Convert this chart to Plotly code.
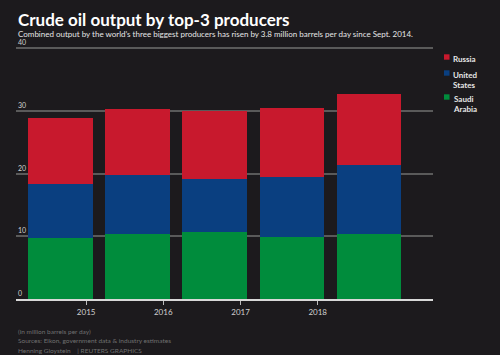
import plotly.graph_objects as go

dates = ["2014-09-01", "2015-09-01", "2016-09-01", "2017-09-01", "2018-09-01"]
saudi = [9.7, 10.4, 10.7, 9.95, 10.4]
us = [8.6, 9.3, 8.4, 9.55, 11.0]
russia = [10.6, 10.65, 10.9, 10.95, 11.3]
series_names = ["Saudi Arabia", "United States", "Russia"]
legend_labels = ["Saudi<br>Arabia", "United<br>States", "Russia"]
series_colors = ["#008c3c", "#0a3f80", "#c8192d"]
y_ticks = [0, 10, 20, 30, 40]
x_ticks = ["2015-01-01", "2016-01-01", "2017-01-01", "2018-01-01"]
x_labels = ["2015", "2016", "2017", "2018"]
footer_lines = ["(in million barrels per day)",
                "Sources: Eikon, government data &amp; industry estimates",
                "Henning Gloystein    | REUTERS GRAPHICS"]

BG = "#1c1a1d"
FONT = "Lato"
bar_width_ms = 306 * 86400000

W, H = 500, 355
ML, MR, MT, MB = 16, 67, 45, 56
PW = W - ML - MR
PH = H - MT - MB

def px_x(px):
    return (px - ML) / PW

def px_y(py):
    return (H - MB - py) / PH

fig = go.Figure()
for name, vals, col in zip(series_names, [saudi, us, russia], series_colors):
    fig.add_trace(go.Bar(
        x=dates, y=vals, name=name, marker=dict(color=col, line=dict(width=0)),
        width=[bar_width_ms] * len(dates), showlegend=False,
    ))

annotations = []
for t in y_ticks:
    annotations.append(dict(
        x=0, xref="paper", y=t, yref="y", text=str(t), showarrow=False,
        xanchor="left", yanchor="bottom", yshift=0,
        font=dict(family=FONT, size=7, color="#d0d0d0"),
    ))

# manual legend (Russia on top)
shapes = []
legend_rows = [(57, 2), (73, 1), (97, 0)]
for py, idx in legend_rows:
    shapes.append(dict(type="rect", xref="paper", yref="paper",
                       x0=px_x(444), x1=px_x(449.5), y0=px_y(py + 2.7), y1=px_y(py - 2.7),
                       fillcolor=series_colors[idx], line=dict(width=0)))
    annotations.append(dict(x=px_x(451), xref="paper", y=px_y(py - 5), yref="paper",
                            text="<b>" + legend_labels[idx] + "</b>", showarrow=False,
                            xanchor="left", yanchor="top", align="left",
                            font=dict(family=FONT, size=8, color="#e6e6e6")))

annotations += [
    dict(x=0, xref="paper", y=px_y(19.5), yref="paper", text="<b>Crude oil output by top-3 producers</b>",
         showarrow=False, xanchor="left", yanchor="middle",
         font=dict(family=FONT, size=17, color="#ffffff")),
    dict(x=0, xref="paper", y=px_y(33.5), yref="paper",
         text="Combined output by the world\u2019s three biggest producers has risen by 3.8 million barrels per day since Sept. 2014.",
         showarrow=False, xanchor="left", yanchor="middle",
         font=dict(family=FONT, size=8, color="#e6e6e6")),
]
for i, line in enumerate(footer_lines):
    annotations.append(dict(x=0, xref="paper", y=px_y(331 + 9.7 * i), yref="paper",
                            text=line, showarrow=False, xanchor="left", yanchor="middle",
                            font=dict(family=FONT, size=6.5, color="#707070")))

fig.update_layout(
    width=W, height=H,
    margin=dict(l=ML, r=MR, t=MT, b=MB),
    paper_bgcolor=BG, plot_bgcolor=BG,
    barmode="stack",
    showlegend=False,
    xaxis=dict(type="date", range=["2014-02-03", "2019-07-01"],
               tickvals=x_ticks, ticktext=x_labels, ticks="outside", ticklen=4,
               tickcolor="#bbbbbb", showgrid=False, showline=True, linecolor="#d8d8d8", linewidth=2,
               tickfont=dict(family=FONT, size=8, color="#d0d0d0"), zeroline=False),
    yaxis=dict(range=[0, 40.5], tickvals=y_ticks, showticklabels=False, showgrid=True,
               gridcolor="#5a5a5a", gridwidth=1.5, zeroline=False),
    shapes=shapes,
    annotations=annotations,
)

fig.write_html("out.html", config={"displayModeBar": False},
               post_script="document.body.style.margin='0';document.body.style.overflow='hidden';document.body.style.background='" + BG + "';")
